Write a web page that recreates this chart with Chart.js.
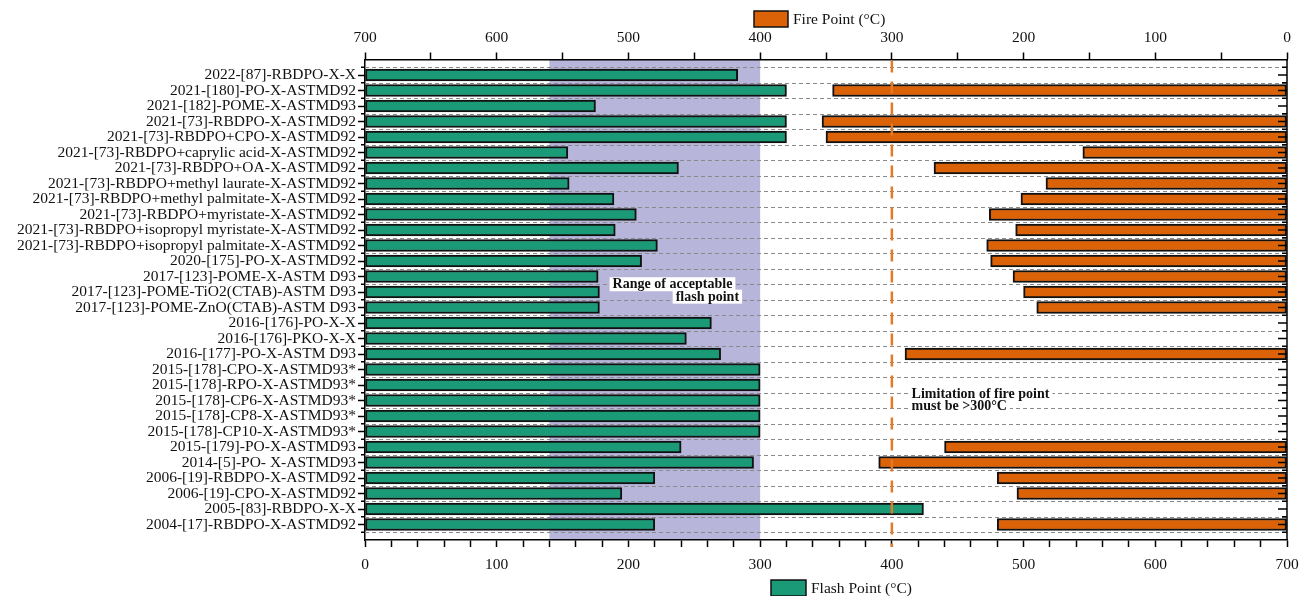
<!DOCTYPE html>
<html><head><meta charset="utf-8">
<script src="https://cdn.jsdelivr.net/npm/chart.js@4/dist/chart.umd.min.js"></script>
<style>html,body{margin:0;padding:0;background:#fff;}</style>
</head><body>
<canvas id="c" width="1300" height="596"></canvas>
<script>
const categories = [
  '2022-[87]-RBDPO-X-X',
  '2021-[180]-PO-X-ASTMD92',
  '2021-[182]-POME-X-ASTMD93',
  '2021-[73]-RBDPO-X-ASTMD92',
  '2021-[73]-RBDPO+CPO-X-ASTMD92',
  '2021-[73]-RBDPO+caprylic acid-X-ASTMD92',
  '2021-[73]-RBDPO+OA-X-ASTMD92',
  '2021-[73]-RBDPO+methyl laurate-X-ASTMD92',
  '2021-[73]-RBDPO+methyl palmitate-X-ASTMD92',
  '2021-[73]-RBDPO+myristate-X-ASTMD92',
  '2021-[73]-RBDPO+isopropyl myristate-X-ASTMD92',
  '2021-[73]-RBDPO+isopropyl palmitate-X-ASTMD92',
  '2020-[175]-PO-X-ASTMD92',
  '2017-[123]-POME-X-ASTM D93',
  '2017-[123]-POME-TiO2(CTAB)-ASTM D93',
  '2017-[123]-POME-ZnO(CTAB)-ASTM D93',
  '2016-[176]-PO-X-X',
  '2016-[176]-PKO-X-X',
  '2016-[177]-PO-X-ASTM D93',
  '2015-[178]-CPO-X-ASTMD93*',
  '2015-[178]-RPO-X-ASTMD93*',
  '2015-[178]-CP6-X-ASTMD93*',
  '2015-[178]-CP8-X-ASTMD93*',
  '2015-[178]-CP10-X-ASTMD93*',
  '2015-[179]-PO-X-ASTMD93',
  '2014-[5]-PO- X-ASTMD93',
  '2006-[19]-RBDPO-X-ASTMD92',
  '2006-[19]-CPO-X-ASTMD92',
  '2005-[83]-RBDPO-X-X',
  '2004-[17]-RBDPO-X-ASTMD92'
];
const flashPoint = [283, 320, 175, 320, 320, 154, 238, 155, 189, 206, 190, 222, 210, 177, 178, 178, 263, 244, 270, 300, 300, 300, 300, 300, 240, 295, 220, 195, 424, 220];
const firePoint  = [null, 345, null, 353, 350, 155, 268, 183, 202, 226, 206, 228, 225, 208, 200, 190, null, null, 290, null, null, null, null, null, 260, 310, 220, 205, null, 220];
const flashTickValues = [0,20,40,60,80,100,120,140,160,180,200,220,240,260,280,300,320,340,360,380,400,420,440,460,480,500,520,540,560,580,600,620,640,660,680,700];
const fireTickValues = [0,50,100,150,200,250,300,350,400,450,500,550,600,650,700];
const acceptableFlashRange = [140, 300];
const fireLimit = 300;

const GREEN = '#1b9a78';
const ORANGE = '#dc6208';
const FONT = "'Liberation Serif', 'Times New Roman', serif";

Chart.defaults.font.family = FONT;
Chart.defaults.font.size = 15.5;
Chart.defaults.color = '#111';

const flashData = flashPoint.map((v, i) => ({x: v, y: i}));
const fireData = firePoint.map((v, i) => ({x: v, y: i})).filter(p => p.x !== null);

function drawLabel(ctx, text, x, y, align) {
  ctx.font = 'bold 14px ' + FONT;
  const w = ctx.measureText(text).width;
  const left = align === 'right' ? x - w : x;
  ctx.fillStyle = '#fff';
  ctx.fillRect(left - 3, y - 7, w + 6, 14);
  ctx.fillStyle = '#111';
  ctx.textAlign = 'left';
  ctx.textBaseline = 'middle';
  ctx.fillText(text, left, y + 0.5);
}

const decor = {
  id: 'decor',
  beforeDraw(chart) {
    const {ctx, chartArea: a, scales} = chart;
    ctx.save();
    ctx.fillStyle = '#fff';
    ctx.fillRect(0, 0, chart.width, chart.height);
    const x0 = scales.x.getPixelForValue(acceptableFlashRange[0]);
    const x1 = scales.x.getPixelForValue(acceptableFlashRange[1]);
    ctx.fillStyle = '#b7b5da';
    ctx.fillRect(x0, a.top, x1 - x0, a.bottom - a.top);
    ctx.restore();
  },
  beforeDatasetsDraw(chart) {
    const {ctx, chartArea: a, scales} = chart;
    ctx.save();
    ctx.strokeStyle = '#8a8a8a';
    ctx.lineWidth = 1;
    ctx.setLineDash([4, 3]);
    for (let i = 0; i <= categories.length; i++) {
      const y = Math.round(scales.y.getPixelForValue(i - 0.5)) + 0.5;
      ctx.beginPath(); ctx.moveTo(a.left, y); ctx.lineTo(a.right, y); ctx.stroke();
    }
    ctx.setLineDash([]);
    ctx.strokeStyle = '#000';
    ctx.lineWidth = 1.5;
    for (let i = 0; i <= categories.length; i++) {
      const y = scales.y.getPixelForValue(i - 0.5);
      ctx.beginPath(); ctx.moveTo(a.left, y); ctx.lineTo(a.left - 4, y); ctx.stroke();
    }
    ctx.restore();
  },
  afterDatasetsDraw(chart) {
    const {ctx, chartArea: a, scales} = chart;
    ctx.save();
    const xl = scales.x2.getPixelForValue(fireLimit);
    ctx.strokeStyle = '#e27a26';
    ctx.lineWidth = 2.5;
    ctx.setLineDash([12, 9]);
    ctx.beginPath(); ctx.moveTo(xl, a.top + 1); ctx.lineTo(xl, a.bottom + 7); ctx.stroke();
    ctx.setLineDash([]);
    ctx.strokeStyle = '#000';
    ctx.lineWidth = 1.5;
    ctx.beginPath(); ctx.moveTo(a.right, a.top); ctx.lineTo(a.right, a.bottom); ctx.stroke();
    for (let i = 0; i < categories.length; i++) {
      const y = scales.y.getPixelForValue(i);
      ctx.beginPath(); ctx.moveTo(a.right, y); ctx.lineTo(a.right - 9, y); ctx.stroke();
    }
    for (let i = 0; i <= categories.length; i++) {
      const y = scales.y.getPixelForValue(i - 0.5);
      ctx.beginPath(); ctx.moveTo(a.right, y); ctx.lineTo(a.right - 5, y); ctx.stroke();
    }
    const rx = scales.x.getPixelForValue(188);
    drawLabel(ctx, 'Range of acceptable', rx, scales.y.getPixelForValue(13.5), 'left');
    drawLabel(ctx, 'flash point', scales.x.getPixelForValue(284), scales.y.getPixelForValue(14.3), 'right');
    const lx = scales.x.getPixelForValue(415);
    drawLabel(ctx, 'Limitation of fire point', lx, scales.y.getPixelForValue(20.55), 'left');
    drawLabel(ctx, 'must be >300°C', lx, scales.y.getPixelForValue(21.35), 'left');
    ctx.font = '15.5px ' + FONT;
    ctx.textBaseline = 'middle';
    ctx.textAlign = 'left';
    ctx.lineWidth = 1.5;
    ctx.fillStyle = ORANGE; ctx.fillRect(754, 11, 34, 16);
    ctx.strokeStyle = '#111'; ctx.strokeRect(754, 11, 34, 16);
    ctx.fillStyle = '#111'; ctx.fillText('Fire Point (°C)', 793, 19.5);
    ctx.fillStyle = GREEN; ctx.fillRect(771, 580, 35, 16);
    ctx.strokeStyle = '#111'; ctx.strokeRect(771, 580, 35, 16);
    ctx.fillStyle = '#111'; ctx.fillText('Flash Point (°C)', 811, 589);
    ctx.restore();
  }
};

const axisGrid = {drawOnChartArea: false, drawTicks: true, tickLength: 7, tickColor: '#000', tickWidth: 1.5, offset: false};
const axisBorder = {display: true, color: '#000', width: 1.5};

new Chart(document.getElementById('c'), {
  type: 'bar',
  data: {
    datasets: [
      {label: 'Flash Point (°C)', data: flashData, xAxisID: 'x', yAxisID: 'y',
       backgroundColor: GREEN, borderColor: '#111', borderWidth: 2, borderSkipped: false,
       barThickness: 12, grouped: false},
      {label: 'Fire Point (°C)', data: fireData, xAxisID: 'x2', yAxisID: 'y',
       backgroundColor: ORANGE, borderColor: '#111', borderWidth: 2, borderSkipped: false,
       barThickness: 12, grouped: false}
    ]
  },
  options: {
    indexAxis: 'y',
    responsive: false,
    animation: false,
    devicePixelRatio: 1,
    layout: {padding: {left: 0, right: 13, top: 0, bottom: 0}},
    plugins: {legend: {display: false}, tooltip: {enabled: false}},
    scales: {
      x: {
        type: 'linear', position: 'bottom', min: 0, max: 700, offset: false,
        afterBuildTicks: s => { s.ticks = flashTickValues.map(v => ({value: v})); },
        afterFit: s => { s.height = 56; s.paddingLeft = 0; s.paddingRight = 0; },
        ticks: {autoSkip: false, maxRotation: 0, minRotation: 0, padding: 9, color: '#111',
                callback: v => (v % 100 === 0 ? String(v) : '')},
        grid: axisGrid, border: axisBorder
      },
      x2: {
        type: 'linear', position: 'top', reverse: true, min: 0, max: 700, offset: false,
        afterBuildTicks: s => { s.ticks = fireTickValues.map(v => ({value: v})); },
        afterFit: s => { s.height = 59.5; s.paddingLeft = 0; s.paddingRight = 0; },
        ticks: {autoSkip: false, maxRotation: 0, minRotation: 0, padding: 5, color: '#111',
                callback: v => (v % 100 === 0 ? String(v) : '')},
        grid: axisGrid, border: axisBorder
      },
      y: {
        type: 'linear', position: 'left', reverse: true, min: -1, max: categories.length, offset: false,
        afterBuildTicks: s => { s.ticks = categories.map((c, i) => ({value: i})); },
        afterFit: s => { s.width = 365; s.paddingTop = 0; s.paddingBottom = 0; },
        ticks: {autoSkip: false, padding: 2, color: '#111', callback: v => (categories[v] !== undefined ? categories[v] : '')},
        grid: axisGrid, border: axisBorder
      }
    }
  },
  plugins: [decor]
});
</script>
</body></html>
